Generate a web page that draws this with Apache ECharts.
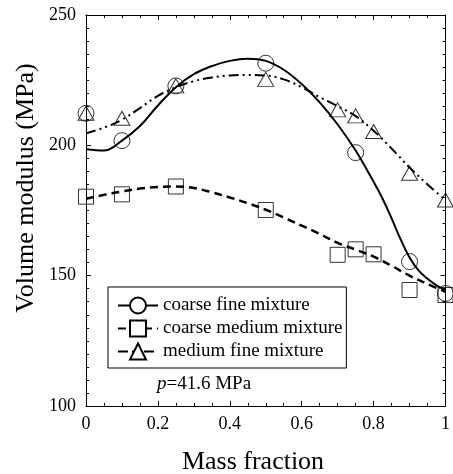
<!DOCTYPE html>
<html>
<head>
<meta charset="utf-8">
<script src="https://cdn.jsdelivr.net/npm/echarts@6/dist/echarts.min.js"></script>
<style>html,body{margin:0;padding:0;background:#fff}#c{width:453px;height:474px}</style>
</head>
<body>
<div id="c"></div>
<script>
// ---- data ----
const xTicks = [0, 0.2, 0.4, 0.6, 0.8, 1];
const yTicks = [100, 150, 200, 250];

const seriesNames = ['coarse fine mixture', 'coarse medium mixture', 'medium fine mixture'];

// measured points
const cfX = [0, 0.1, 0.25, 0.5, 0.75, 0.9, 1];
const cfY = [212.3, 201.8, 222.8, 231.5, 197.2, 155.4, 143.2];
const cmX = [0, 0.1, 0.25, 0.5, 0.7, 0.75, 0.8, 0.9, 1];
const cmY = [180.3, 181.2, 184.2, 175.2, 158.0, 160.1, 158.2, 144.5, 142.6];
const mfX = [0, 0.1, 0.25, 0.5, 0.7, 0.75, 0.8, 0.9, 1];
const mfY = [212.3, 210.4, 222.8, 225.3, 213.6, 211.3, 205.3, 189.3, 179.0];

// fitted curves
const cfFitX = [0, 0.05, 0.1, 0.15, 0.2, 0.25, 0.3, 0.35, 0.4, 0.45, 0.5, 0.55, 0.6, 0.65, 0.7, 0.75, 0.8, 0.825, 0.85, 0.875, 0.9, 0.925, 0.95, 0.975, 1];
const cfFitY = [198.5, 198.0, 201.8, 207.4, 215.3, 222.3, 227.3, 230.4, 232.4, 233.2, 232.4, 229.0, 223.5, 216.5, 208.0, 198.0, 186.0, 179.5, 172.0, 164.0, 157.0, 152.0, 148.8, 146.3, 144.5];
const cmFitX = [0, 0.05, 0.1, 0.15, 0.2, 0.25, 0.3, 0.35, 0.4, 0.45, 0.5, 0.55, 0.6, 0.65, 0.7, 0.75, 0.8, 0.85, 0.9, 0.95, 1];
const cmFitY = [179.5, 181.0, 182.3, 183.4, 184.0, 184.2, 183.6, 182.0, 180.0, 177.8, 175.3, 172.3, 169.2, 166.0, 162.6, 160.0, 157.3, 153.8, 150.0, 146.8, 143.8];
const mfFitX = [0, 0.05, 0.1, 0.15, 0.2, 0.25, 0.3, 0.35, 0.4, 0.45, 0.5, 0.55, 0.6, 0.65, 0.7, 0.75, 0.8, 0.85, 0.9, 0.95, 1];
const mfFitY = [204.6, 206.8, 209.8, 214.3, 219.0, 222.3, 224.6, 226.0, 226.8, 227.0, 226.8, 225.3, 222.3, 218.5, 215.0, 211.2, 205.6, 198.8, 191.5, 185.0, 179.0];

// ---- chart ----
const zip = (xs, ys) => xs.map((x, i) => [x, ys[i]]);
const FONT = 'Liberation Serif';
const BLACK = '#000';

const chart = echarts.init(document.getElementById('c'), null, {renderer: 'canvas'});

function xAxisCfg(pos, showLabel) {
  return {
    type: 'value', position: pos, min: xTicks[0], max: xTicks[xTicks.length - 1],
    interval: xTicks[1] - xTicks[0],
    axisLine: {show: true, onZero: false, lineStyle: {color: BLACK, width: 1}},
    axisTick: {show: true, inside: true, length: 5, lineStyle: {color: BLACK}},
    minorTick: {show: true, splitNumber: 4, length: 3, lineStyle: {color: BLACK}},
    splitLine: {show: false},
    axisLabel: {show: showLabel, color: BLACK, fontFamily: FONT, fontSize: 18, margin: 9},
  };
}
function yAxisCfg(pos, showLabel) {
  return {
    type: 'value', position: pos, min: yTicks[0], max: yTicks[yTicks.length - 1],
    interval: yTicks[1] - yTicks[0],
    axisLine: {show: true, onZero: false, lineStyle: {color: BLACK, width: 1}},
    axisTick: {show: true, inside: true, length: 5, lineStyle: {color: BLACK}},
    minorTick: {show: true, splitNumber: 10, length: 3, lineStyle: {color: BLACK}},
    splitLine: {show: false},
    axisLabel: {show: showLabel, color: BLACK, fontFamily: FONT, fontSize: 18, margin: 10},
  };
}

function fitSeries(name, xs, ys, symbol, lineType, width) {
  return {
    name: name, type: 'line', data: zip(xs, ys), smooth: 0.4,
    showSymbol: false, symbol: symbol, symbolSize: 16,
    lineStyle: {color: BLACK, width: width, type: lineType},
    itemStyle: {color: BLACK, borderColor: BLACK, borderWidth: 1},
    emphasis: {disabled: true}, silent: true, z: 2
  };
}
function pointSeries(name, xs, ys, symbol, size) {
  return {
    name: name, type: 'scatter', data: zip(xs, ys), symbol: symbol, symbolSize: size,
    itemStyle: {color: 'rgba(0,0,0,0)', borderColor: BLACK, borderWidth: 1},
    emphasis: {disabled: true}, silent: true, z: 3
  };
}

chart.setOption({
  backgroundColor: '#fff',
  animation: false,
  grid: {left: 86, right: 3, top: 15, bottom: 68, containLabel: false},
  xAxis: [xAxisCfg('bottom', true), xAxisCfg('top', false)],
  yAxis: [yAxisCfg('left', true), yAxisCfg('right', false)],
  legend: {
    orient: 'vertical', left: 108, top: 287,
    itemWidth: 40, itemHeight: 20, itemGap: 4,
    padding: [9, 4, 7, 9],
    borderColor: BLACK, borderWidth: 1, borderRadius: 0, backgroundColor: '#fff',
    textStyle: {fontFamily: FONT, fontSize: 19, color: BLACK},
    selectedMode: false,
    data: seriesNames
  },
  series: [
    fitSeries(seriesNames[0], cfFitX, cfFitY, 'emptyCircle', 'solid', 2),
    fitSeries(seriesNames[1], cmFitX, cmFitY, 'emptyRect', [8, 5], 2.5),
    fitSeries(seriesNames[2], mfFitX, mfFitY, 'emptyTriangle', [10, 4, 2, 4, 2, 4], 2),
    pointSeries('cf points', cfX, cfY, 'circle', 16),
    pointSeries('cm points', cmX, cmY, 'rect', 15),
    pointSeries('mf points', mfX, mfY, 'triangle', [16, 14])
  ],
  graphic: [
    {type: 'text', x: 26, y: 188, rotation: Math.PI / 2,
      style: {text: 'Volume modulus (MPa)', font: '26px "Liberation Serif"', fill: BLACK, align: 'center', verticalAlign: 'middle'}},
    {type: 'text', x: 253, y: 462,
      style: {text: 'Mass fraction', font: '26px "Liberation Serif"', fill: BLACK, align: 'center', verticalAlign: 'middle'}},
    {type: 'text', x: 157, y: 384,
      style: {text: '{i|p}=41.6 MPa', fill: BLACK, verticalAlign: 'middle', font: '19px "Liberation Serif"',
        rich: {i: {fontStyle: 'italic', fontFamily: FONT, fontSize: 19, fill: BLACK}}}}
  ]
});
</script>
</body>
</html>
